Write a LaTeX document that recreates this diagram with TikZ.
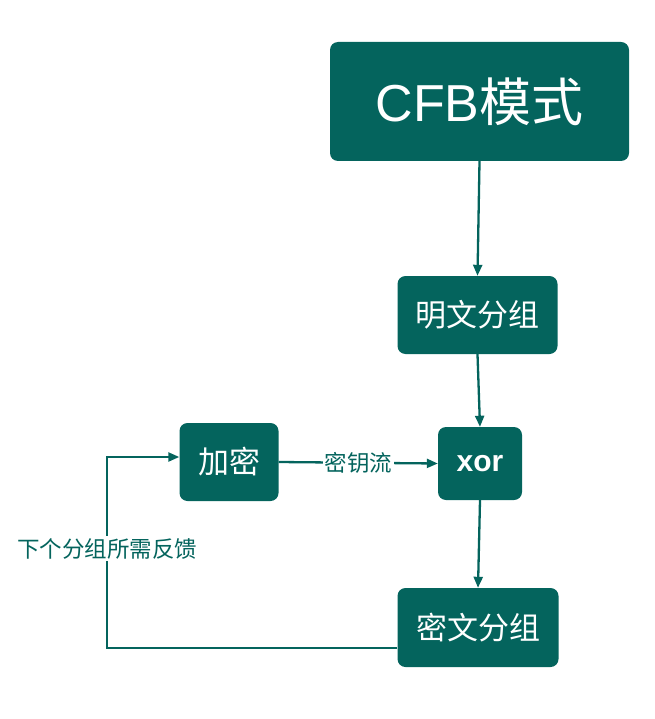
\documentclass[tikz,border=0pt]{standalone}
\usepackage{fontspec}
\setmainfont{Noto Sans CJK SC}
\newfontfamily\latinfont{Liberation Sans}
\usepackage{xcolor}
\definecolor{teal}{HTML}{04645D}
\usepackage{tikz}
\usetikzlibrary{arrows.meta, positioning}

\begin{document}
\begin{tikzpicture}[
    x=1pt, y=-1pt,
    block/.style={fill=teal, text=white, rounded corners=8pt, inner sep=0pt, align=center},
    link/.style={draw=teal, line width=2.3pt, -{Triangle[length=11pt, width=9pt]}},
    lbl/.style={fill=white, text=teal, inner sep=2pt, font=\fontsize{22.5}{22.5}\selectfont}
    ]
    \useasboundingbox (0,0) rectangle (654,719);

    \node[block, minimum width=299pt, minimum height=119pt, font=\fontsize{52}{52}\selectfont] (cfb) at (479.5,101.5) {{\latinfont CFB}模式};
    \node[block, minimum width=160pt, minimum height=78pt, font=\fontsize{31}{31}\selectfont] (plain) at (477.5,315) {明文分组};
    \node[block, minimum width=84pt, minimum height=73pt, font=\fontsize{30}{30}\selectfont\latinfont\bfseries] (xor) at (480,463.5) {xor};
    \node[block, minimum width=99pt, minimum height=78pt, font=\fontsize{31}{31}\selectfont] (enc) at (229,462) {加密};
    \node[block, minimum width=161pt, minimum height=79pt, font=\fontsize{31}{31}\selectfont] (cipher) at (478,627.5) {密文分组};
    \coordinate (fb) at (107,648);
    \coordinate (in) at ([yshift=5pt]enc.west);

    \draw[link] (cfb.south) -- (plain.north);
    \draw[link] (plain.south) -- (xor.north);
    \draw[link] (xor.south) -- (cipher.north);
    \draw[link] (enc.east) -- node[lbl] (key) {密钥流} (xor.west);
    \draw[link] (cipher.west |- fb) -- (fb) -- node[lbl, pos=0.52] (back) {下个分组所需反馈} (fb |- in) -- (in);
\end{tikzpicture}
\end{document}
